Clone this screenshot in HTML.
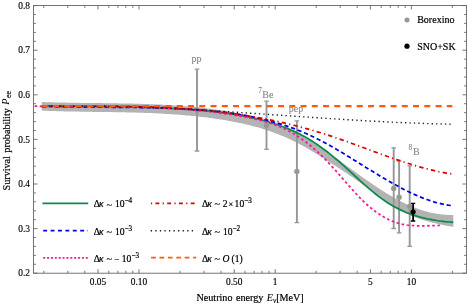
<!DOCTYPE html>
<html><head><meta charset="utf-8"><title>chart</title>
<style>
html,body{margin:0;padding:0;background:#fff;}
#c{position:relative;will-change:transform;width:467px;height:306px;overflow:hidden;background:#fff;font-family:"Liberation Serif",serif;}
.t{position:absolute;white-space:nowrap;line-height:1;font-family:"Liberation Serif",serif;}
.t span.b{display:inline-block;}
sup,sub{line-height:0;}
</style></head><body><div id="c">
<svg width="467" height="306" viewBox="0 0 467 306" style="position:absolute;left:0;top:0">
<path d="M41.8,102.0 L44.4,102.1 L47.0,102.2 L49.6,102.2 L52.2,102.3 L54.7,102.4 L57.3,102.5 L59.9,102.5 L62.5,102.6 L65.1,102.6 L67.7,102.7 L70.3,102.7 L72.9,102.8 L75.4,102.8 L78.0,102.8 L80.6,102.9 L83.2,102.9 L85.8,102.9 L88.4,103.0 L91.0,103.0 L93.6,103.0 L96.1,103.1 L98.7,103.1 L101.3,103.1 L103.9,103.2 L106.5,103.2 L109.1,103.2 L111.7,103.3 L114.3,103.3 L116.9,103.3 L119.4,103.4 L122.0,103.4 L124.6,103.5 L127.2,103.5 L129.8,103.6 L132.4,103.6 L135.0,103.7 L137.6,103.8 L140.1,103.8 L142.7,103.9 L145.3,104.0 L147.9,104.1 L150.5,104.2 L153.1,104.3 L155.7,104.4 L158.3,104.5 L160.9,104.6 L163.4,104.8 L166.0,104.9 L168.6,105.0 L171.2,105.2 L173.8,105.4 L176.4,105.5 L179.0,105.7 L181.6,105.9 L184.1,106.1 L186.7,106.3 L189.3,106.6 L191.9,106.8 L194.5,107.0 L197.1,107.3 L199.7,107.6 L202.3,107.8 L204.8,108.1 L207.4,108.5 L210.0,108.8 L212.6,109.1 L215.2,109.5 L217.8,109.8 L220.4,110.2 L223.0,110.6 L225.6,111.0 L228.1,111.4 L230.7,111.9 L233.3,112.3 L235.9,112.8 L238.5,113.3 L241.1,113.9 L243.7,114.4 L246.3,115.0 L248.8,115.6 L251.4,116.2 L254.0,116.9 L256.6,117.6 L259.2,118.3 L261.8,119.1 L264.4,119.9 L267.0,120.7 L269.5,121.6 L272.1,122.5 L274.7,123.4 L277.3,124.4 L279.9,125.4 L282.5,126.5 L285.1,127.6 L287.7,128.8 L290.3,130.0 L292.8,131.2 L295.4,132.5 L298.0,133.9 L300.6,135.3 L303.2,136.7 L305.8,138.2 L308.4,139.8 L311.0,141.3 L313.5,142.9 L316.1,144.6 L318.7,146.3 L321.3,148.0 L323.9,149.7 L326.5,151.5 L329.1,153.3 L331.7,155.1 L334.2,156.9 L336.8,158.7 L339.4,160.6 L342.0,162.5 L344.6,164.3 L347.2,166.2 L349.8,168.1 L352.4,169.9 L355.0,171.8 L357.5,173.7 L360.1,175.5 L362.7,177.4 L365.3,179.2 L367.9,181.0 L370.5,182.8 L373.1,184.6 L375.7,186.3 L378.2,188.0 L380.8,189.7 L383.4,191.3 L386.0,193.0 L388.6,194.5 L391.2,196.0 L393.8,197.5 L396.4,199.0 L399.0,200.3 L401.5,201.7 L404.1,203.0 L406.7,204.2 L409.3,205.4 L411.9,206.5 L414.5,207.5 L417.1,208.5 L419.7,209.4 L422.2,210.3 L424.8,211.1 L427.4,211.8 L430.0,212.5 L432.6,213.0 L435.2,213.6 L437.8,214.0 L440.4,214.3 L442.9,214.6 L445.5,214.8 L448.1,214.9 L450.7,215.0 L453.3,214.9 L453.3,226.8 L450.7,226.4 L448.1,226.0 L445.5,225.5 L442.9,225.0 L440.4,224.5 L437.8,223.9 L435.2,223.3 L432.6,222.7 L430.0,222.0 L427.4,221.3 L424.8,220.5 L422.2,219.7 L419.7,218.9 L417.1,217.9 L414.5,217.0 L411.9,215.9 L409.3,214.8 L406.7,213.7 L404.1,212.4 L401.5,211.1 L399.0,209.8 L396.4,208.3 L393.8,206.8 L391.2,205.2 L388.6,203.5 L386.0,201.7 L383.4,199.9 L380.8,198.0 L378.2,196.1 L375.7,194.2 L373.1,192.2 L370.5,190.2 L367.9,188.3 L365.3,186.3 L362.7,184.4 L360.1,182.6 L357.5,180.7 L355.0,178.9 L352.4,177.1 L349.8,175.4 L347.2,173.6 L344.6,171.9 L342.0,170.2 L339.4,168.5 L336.8,166.8 L334.2,165.2 L331.7,163.5 L329.1,161.9 L326.5,160.2 L323.9,158.6 L321.3,156.9 L318.7,155.3 L316.1,153.7 L313.5,152.1 L311.0,150.6 L308.4,149.1 L305.8,147.6 L303.2,146.1 L300.6,144.7 L298.0,143.3 L295.4,142.0 L292.8,140.7 L290.3,139.5 L287.7,138.3 L285.1,137.1 L282.5,136.0 L279.9,135.0 L277.3,133.9 L274.7,133.0 L272.1,132.0 L269.5,131.1 L267.0,130.2 L264.4,129.4 L261.8,128.6 L259.2,127.8 L256.6,127.1 L254.0,126.4 L251.4,125.7 L248.8,125.0 L246.3,124.4 L243.7,123.8 L241.1,123.2 L238.5,122.7 L235.9,122.2 L233.3,121.7 L230.7,121.2 L228.1,120.7 L225.6,120.3 L223.0,119.8 L220.4,119.4 L217.8,119.0 L215.2,118.7 L212.6,118.3 L210.0,117.9 L207.4,117.6 L204.8,117.3 L202.3,117.0 L199.7,116.7 L197.1,116.4 L194.5,116.1 L191.9,115.9 L189.3,115.6 L186.7,115.4 L184.1,115.2 L181.6,114.9 L179.0,114.7 L176.4,114.5 L173.8,114.4 L171.2,114.2 L168.6,114.0 L166.0,113.9 L163.4,113.7 L160.9,113.6 L158.3,113.5 L155.7,113.3 L153.1,113.2 L150.5,113.1 L147.9,113.0 L145.3,112.9 L142.7,112.8 L140.1,112.7 L137.6,112.7 L135.0,112.6 L132.4,112.5 L129.8,112.5 L127.2,112.4 L124.6,112.3 L122.0,112.3 L119.4,112.2 L116.9,112.2 L114.3,112.2 L111.7,112.1 L109.1,112.1 L106.5,112.0 L103.9,112.0 L101.3,112.0 L98.7,111.9 L96.1,111.9 L93.6,111.9 L91.0,111.8 L88.4,111.8 L85.8,111.7 L83.2,111.7 L80.6,111.7 L78.0,111.6 L75.4,111.6 L72.9,111.5 L70.3,111.5 L67.7,111.4 L65.1,111.4 L62.5,111.3 L59.9,111.2 L57.3,111.2 L54.7,111.1 L52.2,111.0 L49.6,110.9 L47.0,110.8 L44.4,110.7 L41.8,110.6Z" fill="#b3b3b3"/>
<path d="M197.0,69.2 V151.0" stroke="#979797" stroke-width="1.9" fill="none"/>
<path d="M194.7,69.2 H199.3 M194.7,151.0 H199.3" stroke="#979797" stroke-width="1.3" fill="none"/>
<circle cx="197.0" cy="110.0" r="2.7" fill="#979797"/>
<path d="M266.5,101.2 V149.3" stroke="#979797" stroke-width="1.9" fill="none"/>
<path d="M264.2,101.2 H268.8 M264.2,149.3 H268.8" stroke="#979797" stroke-width="1.3" fill="none"/>
<circle cx="266.5" cy="125.5" r="2.7" fill="#979797"/>
<path d="M296.9,120.9 V222.6" stroke="#979797" stroke-width="1.9" fill="none"/>
<path d="M294.6,120.9 H299.2 M294.6,222.6 H299.2" stroke="#979797" stroke-width="1.3" fill="none"/>
<circle cx="296.9" cy="171.4" r="2.7" fill="#979797"/>
<path d="M393.7,147.8 V228.5" stroke="#979797" stroke-width="1.9" fill="none"/>
<path d="M391.4,147.8 H396.0 M391.4,228.5 H396.0" stroke="#979797" stroke-width="1.3" fill="none"/>
<circle cx="393.7" cy="188.4" r="2.7" fill="#979797"/>
<path d="M399.1,161.2 V232.9" stroke="#979797" stroke-width="1.9" fill="none"/>
<path d="M396.8,161.2 H401.4 M396.8,232.9 H401.4" stroke="#979797" stroke-width="1.3" fill="none"/>
<circle cx="399.1" cy="197.2" r="2.7" fill="#979797"/>
<path d="M409.7,165.8 V246.4" stroke="#979797" stroke-width="1.9" fill="none"/>
<path d="M407.4,165.8 H412.0 M407.4,246.4 H412.0" stroke="#979797" stroke-width="1.3" fill="none"/>
<circle cx="409.7" cy="206.5" r="2.7" fill="#979797"/>
<path d="M41.8,105.8 L43.9,105.8 L45.9,105.8 L48.0,105.8 L50.1,105.8 L52.1,105.8 L54.2,105.9 L56.3,105.9 L58.3,105.9 L60.4,105.9 L62.5,105.9 L64.5,105.9 L66.6,106.0 L68.7,106.0 L70.7,106.0 L72.8,106.0 L74.9,106.0 L77.0,106.0 L79.0,106.1 L81.1,106.1 L83.2,106.1 L85.2,106.1 L87.3,106.2 L89.4,106.2 L91.4,106.2 L93.5,106.2 L95.6,106.3 L97.6,106.3 L99.7,106.3 L101.8,106.4 L103.8,106.4 L105.9,106.4 L108.0,106.5 L110.0,106.5 L112.1,106.5 L114.2,106.6 L116.2,106.6 L118.3,106.7 L120.4,106.7 L122.4,106.7 L124.5,106.8 L126.6,106.8 L128.6,106.9 L130.7,106.9 L132.8,107.0 L134.9,107.0 L136.9,107.1 L139.0,107.2 L141.1,107.2 L143.1,107.3 L145.2,107.4 L147.3,107.4 L149.3,107.5 L151.4,107.6 L153.5,107.6 L155.5,107.7 L157.6,107.8 L159.7,107.9 L161.7,108.0 L163.8,108.1 L165.9,108.2 L167.9,108.3 L170.0,108.4 L172.1,108.5 L174.1,108.6 L176.2,108.7 L178.3,108.8 L180.3,108.9 L182.4,109.1 L184.5,109.2 L186.5,109.3 L188.6,109.5 L190.7,109.6 L192.8,109.8 L194.8,109.9 L196.9,110.1 L199.0,110.3 L201.0,110.4 L203.1,110.6 L205.2,110.8 L207.2,111.0 L209.3,111.2 L211.4,111.4 L213.4,111.6 L215.5,111.9 L217.6,112.1 L219.6,112.3 L221.7,112.6 L223.8,112.8 L225.8,113.1 L227.9,113.4 L230.0,113.7 L232.0,114.0 L234.1,114.3 L236.2,114.7 L238.2,115.0 L240.3,115.3 L242.4,115.7 L244.4,116.1 L246.5,116.5 L248.6,116.9 L250.7,117.3 L252.7,117.8 L254.8,118.3 L256.9,118.7 L258.9,119.2 L261.0,119.7 L263.1,120.3 L265.1,120.8 L267.2,121.4 L269.3,122.0 L271.3,122.7 L273.4,123.3 L275.5,124.0 L277.5,124.7 L279.6,125.4 L281.7,126.2 L283.7,127.0 L285.8,127.8 L287.9,128.6 L289.9,129.5 L292.0,130.4 L294.1,131.4 L296.1,132.4 L298.2,133.4 L300.3,134.4 L302.3,135.5 L304.4,136.6 L306.5,137.8 L308.6,139.0 L310.6,140.3 L312.7,141.6 L314.8,142.9 L316.8,144.3 L318.9,145.7 L321.0,147.2 L323.0,148.7 L325.1,150.2 L327.2,151.8 L329.2,153.4 L331.3,155.1 L333.4,156.8 L335.4,158.5 L337.5,160.2 L339.6,162.0 L341.6,163.9 L343.7,165.7 L345.8,167.6 L347.8,169.4 L349.9,171.3 L352.0,173.2 L354.0,175.1 L356.1,177.0 L358.2,178.9 L360.2,180.8 L362.3,182.7 L364.4,184.6 L366.5,186.4 L368.5,188.2 L370.6,189.9 L372.7,191.7 L374.7,193.3 L376.8,195.0 L378.9,196.6 L380.9,198.1 L383.0,199.6 L385.1,201.0 L387.1,202.4 L389.2,203.7 L391.3,205.0 L393.3,206.2 L395.4,207.3 L397.5,208.4 L399.5,209.4 L401.6,210.4 L403.7,211.3 L405.7,212.2 L407.8,213.0 L409.9,213.8 L411.9,214.6 L414.0,215.2 L416.1,215.9 L418.1,216.5 L420.2,217.1 L422.3,217.6 L424.4,218.1 L426.4,218.6 L428.5,219.0 L430.6,219.4 L432.6,219.8 L434.7,220.1 L436.8,220.5 L438.8,220.8 L440.9,221.0 L443.0,221.3 L445.0,221.6 L447.1,221.8 L449.2,222.0 L451.2,222.2 L453.3,222.4" fill="none" stroke="#0b8a4a" stroke-width="1.75"/>
<path d="M41.8,106.0 L44.4,106.1 L46.9,106.2 L49.5,106.3 L52.1,106.4 L54.7,106.5 L57.2,106.6 L59.8,106.6 L62.4,106.7 L65.0,106.8 L67.5,106.8 L70.1,106.9 L72.7,106.9 L75.2,107.0 L77.8,107.0 L80.4,107.0 L83.0,107.1 L85.5,107.1 L88.1,107.1 L90.7,107.1 L93.2,107.2 L95.8,107.2 L98.4,107.2 L101.0,107.2 L103.5,107.2 L106.1,107.2 L108.7,107.3 L111.3,107.3 L113.8,107.3 L116.4,107.3 L119.0,107.3 L121.5,107.3 L124.1,107.3 L126.7,107.3 L129.3,107.4 L131.8,107.4 L134.4,107.4 L137.0,107.4 L139.5,107.5 L142.1,107.5 L144.7,107.5 L147.3,107.6 L149.8,107.6 L152.4,107.7 L155.0,107.7 L157.6,107.8 L160.1,107.9 L162.7,107.9 L165.3,108.0 L167.8,108.1 L170.4,108.2 L173.0,108.3 L175.6,108.4 L178.1,108.5 L180.7,108.7 L183.3,108.8 L185.9,108.9 L188.4,109.1 L191.0,109.2 L193.6,109.4 L196.1,109.6 L198.7,109.8 L201.3,110.0 L203.9,110.2 L206.4,110.4 L209.0,110.7 L211.6,110.9 L214.1,111.2 L216.7,111.4 L219.3,111.7 L221.9,112.0 L224.4,112.3 L227.0,112.7 L229.6,113.0 L232.2,113.4 L234.7,113.7 L237.3,114.1 L239.9,114.5 L242.4,115.0 L245.0,115.4 L247.6,115.9 L250.2,116.4 L252.7,116.9 L255.3,117.4 L257.9,118.0 L260.4,118.6 L263.0,119.2 L265.6,119.8 L268.2,120.4 L270.7,121.1 L273.3,121.8 L275.9,122.6 L278.5,123.3 L281.0,124.1 L283.6,124.9 L286.2,125.8 L288.7,126.7 L291.3,127.6 L293.9,128.5 L296.5,129.5 L299.0,130.6 L301.6,131.6 L304.2,132.7 L306.7,133.8 L309.3,135.0 L311.9,136.2 L314.5,137.4 L317.0,138.7 L319.6,140.0 L322.2,141.4 L324.8,142.7 L327.3,144.2 L329.9,145.6 L332.5,147.0 L335.0,148.5 L337.6,150.0 L340.2,151.6 L342.8,153.1 L345.3,154.6 L347.9,156.2 L350.5,157.8 L353.1,159.4 L355.6,161.0 L358.2,162.6 L360.8,164.2 L363.3,165.8 L365.9,167.4 L368.5,169.0 L371.1,170.5 L373.6,172.1 L376.2,173.7 L378.8,175.2 L381.3,176.8 L383.9,178.3 L386.5,179.8 L389.1,181.3 L391.6,182.8 L394.2,184.2 L396.8,185.6 L399.4,187.0 L401.9,188.4 L404.5,189.7 L407.1,191.0 L409.6,192.2 L412.2,193.5 L414.8,194.6 L417.4,195.7 L419.9,196.8 L422.5,197.9 L425.1,198.9 L427.6,199.8 L430.2,200.7 L432.8,201.5 L435.4,202.3 L437.9,203.0 L440.5,203.6 L443.1,204.2 L445.7,204.7 L448.2,205.2 L450.8,205.5" fill="none" stroke="#0000e6" stroke-width="1.75" stroke-dasharray="4.189 2.793"/>
<path d="M34.6,106.1 L37.1,106.2 L39.7,106.2 L42.2,106.3 L44.8,106.3 L47.3,106.4 L49.9,106.4 L52.4,106.5 L55.0,106.5 L57.5,106.5 L60.1,106.5 L62.6,106.6 L65.2,106.6 L67.7,106.6 L70.3,106.6 L72.8,106.6 L75.4,106.7 L77.9,106.7 L80.5,106.7 L83.0,106.7 L85.6,106.7 L88.1,106.7 L90.7,106.7 L93.2,106.7 L95.8,106.7 L98.3,106.7 L100.9,106.8 L103.4,106.8 L106.0,106.8 L108.5,106.8 L111.1,106.8 L113.6,106.8 L116.2,106.9 L118.7,106.9 L121.3,106.9 L123.8,106.9 L126.4,107.0 L128.9,107.0 L131.5,107.1 L134.0,107.1 L136.6,107.2 L139.1,107.2 L141.7,107.3 L144.2,107.3 L146.8,107.4 L149.3,107.5 L151.9,107.6 L154.4,107.7 L157.0,107.8 L159.5,107.9 L162.1,108.0 L164.6,108.1 L167.2,108.2 L169.7,108.4 L172.3,108.5 L174.8,108.6 L177.4,108.8 L179.9,109.0 L182.5,109.1 L185.0,109.3 L187.6,109.5 L190.1,109.7 L192.7,109.9 L195.2,110.2 L197.8,110.4 L200.3,110.6 L202.9,110.9 L205.4,111.2 L208.0,111.5 L210.5,111.7 L213.1,112.0 L215.6,112.4 L218.2,112.7 L220.7,113.0 L223.3,113.4 L225.8,113.8 L228.4,114.1 L230.9,114.5 L233.5,114.9 L236.0,115.4 L238.6,115.8 L241.1,116.3 L243.7,116.7 L246.2,117.2 L248.8,117.7 L251.3,118.2 L253.9,118.8 L256.4,119.4 L259.0,120.0 L261.5,120.6 L264.1,121.3 L266.6,122.0 L269.2,122.8 L271.7,123.7 L274.3,124.6 L276.8,125.5 L279.4,126.5 L281.9,127.6 L284.5,128.8 L287.0,130.1 L289.6,131.4 L292.1,132.8 L294.7,134.3 L297.2,135.9 L299.8,137.6 L302.3,139.4 L304.9,141.3 L307.4,143.2 L310.0,145.3 L312.5,147.4 L315.1,149.7 L317.6,152.0 L320.2,154.4 L322.7,156.9 L325.3,159.4 L327.8,162.1 L330.4,164.8 L332.9,167.6 L335.5,170.4 L338.0,173.3 L340.6,176.2 L343.1,179.1 L345.7,182.1 L348.2,185.0 L350.8,187.9 L353.3,190.7 L355.9,193.5 L358.4,196.2 L361.0,198.9 L363.5,201.4 L366.1,203.8 L368.6,206.1 L371.2,208.2 L373.7,210.2 L376.3,212.2 L378.8,213.9 L381.4,215.6 L383.9,217.1 L386.5,218.5 L389.0,219.8 L391.6,220.9 L394.1,221.9 L396.7,222.7 L399.2,223.5 L401.8,224.1 L404.3,224.6 L406.9,225.0 L409.4,225.3 L412.0,225.5 L414.5,225.7 L417.1,225.8 L419.6,225.9 L422.2,225.9 L424.7,225.8 L427.3,225.8 L429.8,225.7 L432.4,225.6 L434.9,225.6 L437.5,225.5 L440.0,225.4" fill="none" stroke="#ff1493" stroke-width="1.75" stroke-dasharray="2.590 2.540"/>
<path d="M41.8,106.8 L44.4,106.8 L47.0,106.8 L49.5,106.7 L52.1,106.7 L54.7,106.6 L57.3,106.6 L59.8,106.6 L62.4,106.5 L65.0,106.5 L67.6,106.5 L70.1,106.4 L72.7,106.4 L75.3,106.4 L77.9,106.3 L80.4,106.3 L83.0,106.3 L85.6,106.3 L88.2,106.2 L90.7,106.2 L93.3,106.2 L95.9,106.2 L98.5,106.2 L101.1,106.2 L103.6,106.2 L106.2,106.2 L108.8,106.2 L111.4,106.2 L113.9,106.2 L116.5,106.2 L119.1,106.3 L121.7,106.3 L124.2,106.3 L126.8,106.4 L129.4,106.4 L132.0,106.4 L134.5,106.5 L137.1,106.6 L139.7,106.6 L142.3,106.7 L144.8,106.7 L147.4,106.8 L150.0,106.9 L152.6,107.0 L155.1,107.1 L157.7,107.2 L160.3,107.3 L162.9,107.4 L165.5,107.5 L168.0,107.7 L170.6,107.8 L173.2,107.9 L175.8,108.1 L178.3,108.3 L180.9,108.4 L183.5,108.6 L186.1,108.8 L188.6,109.0 L191.2,109.2 L193.8,109.4 L196.4,109.6 L198.9,109.8 L201.5,110.0 L204.1,110.3 L206.7,110.5 L209.2,110.8 L211.8,111.0 L214.4,111.3 L217.0,111.6 L219.6,111.9 L222.1,112.2 L224.7,112.5 L227.3,112.8 L229.9,113.2 L232.4,113.5 L235.0,113.9 L237.6,114.3 L240.2,114.6 L242.7,115.0 L245.3,115.4 L247.9,115.8 L250.5,116.3 L253.0,116.7 L255.6,117.1 L258.2,117.6 L260.8,118.1 L263.3,118.6 L265.9,119.0 L268.5,119.6 L271.1,120.1 L273.6,120.6 L276.2,121.2 L278.8,121.7 L281.4,122.3 L284.0,122.9 L286.5,123.5 L289.1,124.1 L291.7,124.7 L294.3,125.4 L296.8,126.0 L299.4,126.7 L302.0,127.4 L304.6,128.1 L307.1,128.8 L309.7,129.5 L312.3,130.2 L314.9,131.0 L317.4,131.8 L320.0,132.5 L322.6,133.3 L325.2,134.2 L327.7,135.0 L330.3,135.8 L332.9,136.7 L335.5,137.6 L338.1,138.5 L340.6,139.4 L343.2,140.3 L345.8,141.2 L348.4,142.1 L350.9,143.1 L353.5,144.0 L356.1,144.9 L358.7,145.9 L361.2,146.8 L363.8,147.8 L366.4,148.7 L369.0,149.7 L371.5,150.6 L374.1,151.6 L376.7,152.5 L379.3,153.5 L381.8,154.4 L384.4,155.3 L387.0,156.3 L389.6,157.2 L392.1,158.1 L394.7,159.0 L397.3,159.8 L399.9,160.7 L402.5,161.6 L405.0,162.4 L407.6,163.2 L410.2,164.0 L412.8,164.8 L415.3,165.6 L417.9,166.4 L420.5,167.1 L423.1,167.8 L425.6,168.5 L428.2,169.2 L430.8,169.8 L433.4,170.4 L435.9,171.0 L438.5,171.6 L441.1,172.1 L443.7,172.6 L446.2,173.1 L448.8,173.5 L451.4,173.9" fill="none" stroke="#de0000" stroke-width="1.75" stroke-dasharray="4.419 3.214 1.205 3.214"/>
<path d="M41.8,106.6 L44.4,106.5 L46.9,106.4 L49.5,106.4 L52.1,106.3 L54.7,106.3 L57.2,106.2 L59.8,106.2 L62.4,106.2 L64.9,106.1 L67.5,106.1 L70.1,106.1 L72.7,106.1 L75.2,106.1 L77.8,106.1 L80.4,106.1 L82.9,106.1 L85.5,106.1 L88.1,106.1 L90.7,106.1 L93.2,106.1 L95.8,106.2 L98.4,106.2 L100.9,106.2 L103.5,106.3 L106.1,106.3 L108.7,106.3 L111.2,106.4 L113.8,106.5 L116.4,106.5 L119.0,106.6 L121.5,106.6 L124.1,106.7 L126.7,106.8 L129.2,106.8 L131.8,106.9 L134.4,107.0 L137.0,107.1 L139.5,107.2 L142.1,107.3 L144.7,107.4 L147.2,107.5 L149.8,107.6 L152.4,107.7 L155.0,107.8 L157.5,107.9 L160.1,108.0 L162.7,108.1 L165.2,108.2 L167.8,108.3 L170.4,108.5 L173.0,108.6 L175.5,108.7 L178.1,108.8 L180.7,109.0 L183.2,109.1 L185.8,109.2 L188.4,109.4 L191.0,109.5 L193.5,109.7 L196.1,109.8 L198.7,110.0 L201.2,110.1 L203.8,110.3 L206.4,110.4 L209.0,110.6 L211.5,110.7 L214.1,110.9 L216.7,111.0 L219.2,111.2 L221.8,111.3 L224.4,111.5 L227.0,111.7 L229.5,111.8 L232.1,112.0 L234.7,112.2 L237.2,112.3 L239.8,112.5 L242.4,112.7 L245.0,112.8 L247.5,113.0 L250.1,113.2 L252.7,113.4 L255.3,113.5 L257.8,113.7 L260.4,113.9 L263.0,114.1 L265.5,114.2 L268.1,114.4 L270.7,114.6 L273.3,114.8 L275.8,114.9 L278.4,115.1 L281.0,115.3 L283.5,115.5 L286.1,115.6 L288.7,115.8 L291.3,116.0 L293.8,116.2 L296.4,116.3 L299.0,116.5 L301.5,116.7 L304.1,116.9 L306.7,117.0 L309.3,117.2 L311.8,117.4 L314.4,117.6 L317.0,117.7 L319.5,117.9 L322.1,118.1 L324.7,118.2 L327.3,118.4 L329.8,118.6 L332.4,118.7 L335.0,118.9 L337.5,119.1 L340.1,119.2 L342.7,119.4 L345.3,119.5 L347.8,119.7 L350.4,119.9 L353.0,120.0 L355.5,120.2 L358.1,120.3 L360.7,120.5 L363.3,120.6 L365.8,120.8 L368.4,120.9 L371.0,121.1 L373.5,121.2 L376.1,121.3 L378.7,121.5 L381.3,121.6 L383.8,121.7 L386.4,121.9 L389.0,122.0 L391.6,122.1 L394.1,122.2 L396.7,122.4 L399.3,122.5 L401.8,122.6 L404.4,122.7 L407.0,122.8 L409.6,122.9 L412.1,123.0 L414.7,123.1 L417.3,123.2 L419.8,123.3 L422.4,123.4 L425.0,123.5 L427.6,123.6 L430.1,123.7 L432.7,123.7 L435.3,123.8 L437.8,123.9 L440.4,123.9 L443.0,124.0 L445.6,124.1 L448.1,124.1 L450.7,124.2" fill="none" stroke="#1a1a1a" stroke-width="1.4" stroke-dasharray="1.296 3.140"/>
<path d="M41.8,106.05 L452.3,106.05" fill="none" stroke="#ff5a0a" stroke-width="2.2" stroke-dasharray="6 5.25"/>
<path d="M413.1,203.3 V221.0" stroke="#000" stroke-width="1.8" fill="none"/>
<path d="M410.9,203.3 H415.3 M410.9,221.0 H415.3" stroke="#000" stroke-width="1.3" fill="none"/>
<circle cx="413.1" cy="211.8" r="2.6" fill="#000"/>
<rect x="33.5" y="5.5" width="433.0" height="267.7" fill="none" stroke="#666" stroke-width="0.9"/>
<path d="M98.0,273.2 v-4 M98.0,5.5 v4 M139.0,273.2 v-4 M139.0,5.5 v4 M234.2,273.2 v-4 M234.2,5.5 v4 M275.2,273.2 v-4 M275.2,5.5 v4 M370.4,273.2 v-4 M370.4,5.5 v4 M411.4,273.2 v-4 M411.4,5.5 v4 M43.8,273.2 v-2.4 M43.8,5.5 v2.4 M67.8,273.2 v-2.4 M67.8,5.5 v2.4 M84.8,273.2 v-2.4 M84.8,5.5 v2.4 M108.8,273.2 v-2.4 M108.8,5.5 v2.4 M117.9,273.2 v-2.4 M117.9,5.5 v2.4 M125.8,273.2 v-2.4 M125.8,5.5 v2.4 M132.8,273.2 v-2.4 M132.8,5.5 v2.4 M180.0,273.2 v-2.4 M180.0,5.5 v2.4 M204.0,273.2 v-2.4 M204.0,5.5 v2.4 M221.0,273.2 v-2.4 M221.0,5.5 v2.4 M245.0,273.2 v-2.4 M245.0,5.5 v2.4 M254.1,273.2 v-2.4 M254.1,5.5 v2.4 M262.0,273.2 v-2.4 M262.0,5.5 v2.4 M269.0,273.2 v-2.4 M269.0,5.5 v2.4 M316.2,273.2 v-2.4 M316.2,5.5 v2.4 M340.2,273.2 v-2.4 M340.2,5.5 v2.4 M357.2,273.2 v-2.4 M357.2,5.5 v2.4 M381.2,273.2 v-2.4 M381.2,5.5 v2.4 M390.3,273.2 v-2.4 M390.3,5.5 v2.4 M398.2,273.2 v-2.4 M398.2,5.5 v2.4 M405.2,273.2 v-2.4 M405.2,5.5 v2.4 M452.4,273.2 v-2.4 M452.4,5.5 v2.4 M33.5,273.2 h4 M466.5,273.2 h-4 M33.5,264.3 h2.4 M466.5,264.3 h-2.4 M33.5,255.4 h2.4 M466.5,255.4 h-2.4 M33.5,246.4 h2.4 M466.5,246.4 h-2.4 M33.5,237.5 h2.4 M466.5,237.5 h-2.4 M33.5,228.6 h4 M466.5,228.6 h-4 M33.5,219.7 h2.4 M466.5,219.7 h-2.4 M33.5,210.8 h2.4 M466.5,210.8 h-2.4 M33.5,201.8 h2.4 M466.5,201.8 h-2.4 M33.5,192.9 h2.4 M466.5,192.9 h-2.4 M33.5,184.0 h4 M466.5,184.0 h-4 M33.5,175.1 h2.4 M466.5,175.1 h-2.4 M33.5,166.2 h2.4 M466.5,166.2 h-2.4 M33.5,157.2 h2.4 M466.5,157.2 h-2.4 M33.5,148.3 h2.4 M466.5,148.3 h-2.4 M33.5,139.4 h4 M466.5,139.4 h-4 M33.5,130.5 h2.4 M466.5,130.5 h-2.4 M33.5,121.6 h2.4 M466.5,121.6 h-2.4 M33.5,112.6 h2.4 M466.5,112.6 h-2.4 M33.5,103.7 h2.4 M466.5,103.7 h-2.4 M33.5,94.8 h4 M466.5,94.8 h-4 M33.5,85.9 h2.4 M466.5,85.9 h-2.4 M33.5,77.0 h2.4 M466.5,77.0 h-2.4 M33.5,68.0 h2.4 M466.5,68.0 h-2.4 M33.5,59.1 h2.4 M466.5,59.1 h-2.4 M33.5,50.2 h4 M466.5,50.2 h-4 M33.5,41.3 h2.4 M466.5,41.3 h-2.4 M33.5,32.4 h2.4 M466.5,32.4 h-2.4 M33.5,23.4 h2.4 M466.5,23.4 h-2.4 M33.5,14.5 h2.4 M466.5,14.5 h-2.4 M33.5,5.6 h4 M466.5,5.6 h-4" stroke="#666" stroke-width="0.9" fill="none"/>
<path d="M42.4,203.3 H88.2" stroke="#0b8a4a" stroke-width="1.7"/>
<path d="M43.2,230.7 H88.0" stroke="#0000e6" stroke-width="1.7" stroke-dasharray="3.9 3.5"/>
<path d="M43.2,257.9 H88.2" stroke="#ff1493" stroke-width="1.7" stroke-dasharray="2 1.87"/>
<path d="M150.9,203.3 H195.4" stroke="#de0000" stroke-width="1.7" stroke-dasharray="3.9 3.3 1.25 3.3" stroke-dashoffset="7.2"/>
<path d="M150.7,230.7 H193.5" stroke="#1a1a1a" stroke-width="1.4" stroke-dasharray="1.3 3.26"/>
<path d="M151.1,257.6 H196.2" stroke="#ff5a0a" stroke-width="1.7" stroke-dasharray="4.7 3.7"/>
<circle cx="407" cy="19.9" r="2.5" fill="#979797"/>
<circle cx="407" cy="46.2" r="2.6" fill="#000"/>
<g font-family="Liberation Serif, serif"><text x="30.0" y="276.4" font-size="9.4" text-anchor="end" fill="#000" stroke="#000" stroke-width="0.15" >0.2</text>
<text x="30.0" y="231.8" font-size="9.4" text-anchor="end" fill="#000" stroke="#000" stroke-width="0.15" >0.3</text>
<text x="30.0" y="187.2" font-size="9.4" text-anchor="end" fill="#000" stroke="#000" stroke-width="0.15" >0.4</text>
<text x="30.0" y="142.6" font-size="9.4" text-anchor="end" fill="#000" stroke="#000" stroke-width="0.15" >0.5</text>
<text x="30.0" y="98.0" font-size="9.4" text-anchor="end" fill="#000" stroke="#000" stroke-width="0.15" >0.6</text>
<text x="30.0" y="53.4" font-size="9.4" text-anchor="end" fill="#000" stroke="#000" stroke-width="0.15" >0.7</text>
<text x="30.0" y="8.8" font-size="9.4" text-anchor="end" fill="#000" stroke="#000" stroke-width="0.15" >0.8</text>
<text x="98.0" y="285.0" font-size="9.4" text-anchor="middle" fill="#000" stroke="#000" stroke-width="0.15" >0.05</text>
<text x="139.0" y="285.0" font-size="9.4" text-anchor="middle" fill="#000" stroke="#000" stroke-width="0.15" >0.10</text>
<text x="234.2" y="285.0" font-size="9.4" text-anchor="middle" fill="#000" stroke="#000" stroke-width="0.15" >0.50</text>
<text x="275.2" y="285.0" font-size="9.4" text-anchor="middle" fill="#000" stroke="#000" stroke-width="0.15" >1</text>
<text x="370.4" y="285.0" font-size="9.4" text-anchor="middle" fill="#000" stroke="#000" stroke-width="0.15" >5</text>
<text x="411.4" y="285.0" font-size="9.4" text-anchor="middle" fill="#000" stroke="#000" stroke-width="0.15" >10</text>
<text x="196.5" y="301.3" font-size="10.15" text-anchor="start" fill="#000" stroke="#000" stroke-width="0.2" word-spacing="0.9">Neutrino energy <tspan font-style="italic" stroke-width="0.1">E</tspan><tspan font-style="italic" font-size="7.4" dy="1.8" stroke-width="0.1">ν</tspan><tspan dy="-1.8">[MeV]</tspan></text>
<text x="0" y="0" font-size="10.15" text-anchor="start" fill="#000" stroke="#000" stroke-width="0.2" word-spacing="0.9" transform="translate(9.5,190.4) rotate(-90)">Survival probability <tspan font-style="italic" stroke-width="0" dy="-0.7">P</tspan><tspan font-size="8" dy="2.4" dx="0.6">ee</tspan></text>
<text x="417.2" y="23.4" font-size="10" text-anchor="start" fill="#000" stroke="#000" stroke-width="0.2" >Borexino</text>
<text x="417.2" y="49.7" font-size="10" text-anchor="start" fill="#000" stroke="#000" stroke-width="0.2" >SNO+SK</text>
<text x="196.6" y="62.2" font-size="10" text-anchor="middle" fill="#858585" stroke="#858585" stroke-width="0.1" >pp</text>
<text x="262.3" y="97.8" font-size="10" text-anchor="start" fill="#858585" stroke="#858585" stroke-width="0.1" >Be</text>
<text x="258.2" y="92.6" font-size="7.4" text-anchor="start" fill="#858585" stroke="#858585" stroke-width="0.1" >7</text>
<text x="296" y="112.2" font-size="10" text-anchor="middle" fill="#858585" stroke="#858585" stroke-width="0.1" >pep</text>
<text x="413" y="155.0" font-size="10" text-anchor="start" fill="#858585" stroke="#858585" stroke-width="0.1" >B</text>
<text x="408.6" y="149.6" font-size="7.4" text-anchor="start" fill="#858585" stroke="#858585" stroke-width="0.1" >8</text>
<text x="93.7" y="207.2" font-size="9.6" text-anchor="start" fill="#000" stroke="#000" stroke-width="0.2" >Δ</text>
<text x="99.0" y="207.2" font-size="9.6" text-anchor="start" fill="#000" stroke="#000" stroke-width="0.2" font-style="italic">κ</text>
<text x="106.4" y="207.7" font-size="10.2" text-anchor="start" fill="#000" stroke="#000" stroke-width="0.2" >~</text>
<text x="114.9" y="207.2" font-size="9.6" text-anchor="start" fill="#000" stroke="#000" stroke-width="0.2" >10</text>
<text x="124.5" y="203.29999999999998" font-size="7.2" text-anchor="start" fill="#000" stroke="#000" stroke-width="0.2" >−4</text>
<text x="93.7" y="234.6" font-size="9.6" text-anchor="start" fill="#000" stroke="#000" stroke-width="0.2" >Δ</text>
<text x="99.0" y="234.6" font-size="9.6" text-anchor="start" fill="#000" stroke="#000" stroke-width="0.2" font-style="italic">κ</text>
<text x="106.4" y="235.1" font-size="10.2" text-anchor="start" fill="#000" stroke="#000" stroke-width="0.2" >~</text>
<text x="114.9" y="234.6" font-size="9.6" text-anchor="start" fill="#000" stroke="#000" stroke-width="0.2" >10</text>
<text x="124.5" y="230.7" font-size="7.2" text-anchor="start" fill="#000" stroke="#000" stroke-width="0.2" >−3</text>
<text x="93.7" y="261.7" font-size="9.6" text-anchor="start" fill="#000" stroke="#000" stroke-width="0.2" >Δ</text>
<text x="99.0" y="261.7" font-size="9.6" text-anchor="start" fill="#000" stroke="#000" stroke-width="0.2" font-style="italic">κ</text>
<text x="106.4" y="262.2" font-size="10.2" text-anchor="start" fill="#000" stroke="#000" stroke-width="0.2" >~</text>
<text x="114.1" y="261.7" font-size="9.0" text-anchor="start" fill="#000" stroke="#000" stroke-width="0.2" >−</text>
<text x="121.80000000000001" y="261.7" font-size="9.6" text-anchor="start" fill="#000" stroke="#000" stroke-width="0.2" >10</text>
<text x="131.4" y="257.8" font-size="7.2" text-anchor="start" fill="#000" stroke="#000" stroke-width="0.2" >−3</text>
<text x="201.9" y="206.9" font-size="9.6" text-anchor="start" fill="#000" stroke="#000" stroke-width="0.2" >Δ</text>
<text x="207.20000000000002" y="206.9" font-size="9.6" text-anchor="start" fill="#000" stroke="#000" stroke-width="0.2" font-style="italic">κ</text>
<text x="214.6" y="207.4" font-size="10.2" text-anchor="start" fill="#000" stroke="#000" stroke-width="0.2" >~</text>
<text x="222.8" y="206.9" font-size="9.6" text-anchor="start" fill="#000" stroke="#000" stroke-width="0.2" >2</text>
<text x="228.5" y="206.9" font-size="8.2" text-anchor="start" fill="#000" stroke="#000" stroke-width="0.2" >×</text>
<text x="234.60000000000002" y="206.9" font-size="9.6" text-anchor="start" fill="#000" stroke="#000" stroke-width="0.2" >10</text>
<text x="244.20000000000002" y="203.0" font-size="7.2" text-anchor="start" fill="#000" stroke="#000" stroke-width="0.2" >−3</text>
<text x="201.9" y="234.5" font-size="9.6" text-anchor="start" fill="#000" stroke="#000" stroke-width="0.2" >Δ</text>
<text x="207.20000000000002" y="234.5" font-size="9.6" text-anchor="start" fill="#000" stroke="#000" stroke-width="0.2" font-style="italic">κ</text>
<text x="214.6" y="235.0" font-size="10.2" text-anchor="start" fill="#000" stroke="#000" stroke-width="0.2" >~</text>
<text x="222.9" y="234.5" font-size="9.6" text-anchor="start" fill="#000" stroke="#000" stroke-width="0.2" >10</text>
<text x="232.5" y="230.6" font-size="7.2" text-anchor="start" fill="#000" stroke="#000" stroke-width="0.2" >−2</text>
<text x="201.9" y="261.6" font-size="9.6" text-anchor="start" fill="#000" stroke="#000" stroke-width="0.2" >Δ</text>
<text x="207.20000000000002" y="261.6" font-size="9.6" text-anchor="start" fill="#000" stroke="#000" stroke-width="0.2" font-style="italic">κ</text>
<text x="214.6" y="262.1" font-size="10.2" text-anchor="start" fill="#000" stroke="#000" stroke-width="0.2" >~</text>
<text x="222.4" y="261.6" font-size="9.6" text-anchor="start" fill="#000" stroke="#000" stroke-width="0.2" font-style="italic">O</text>
<text x="231.6" y="261.6" font-size="9.6" text-anchor="start" fill="#000" stroke="#000" stroke-width="0.2" >(1)</text></g></svg>
</div></body></html>
